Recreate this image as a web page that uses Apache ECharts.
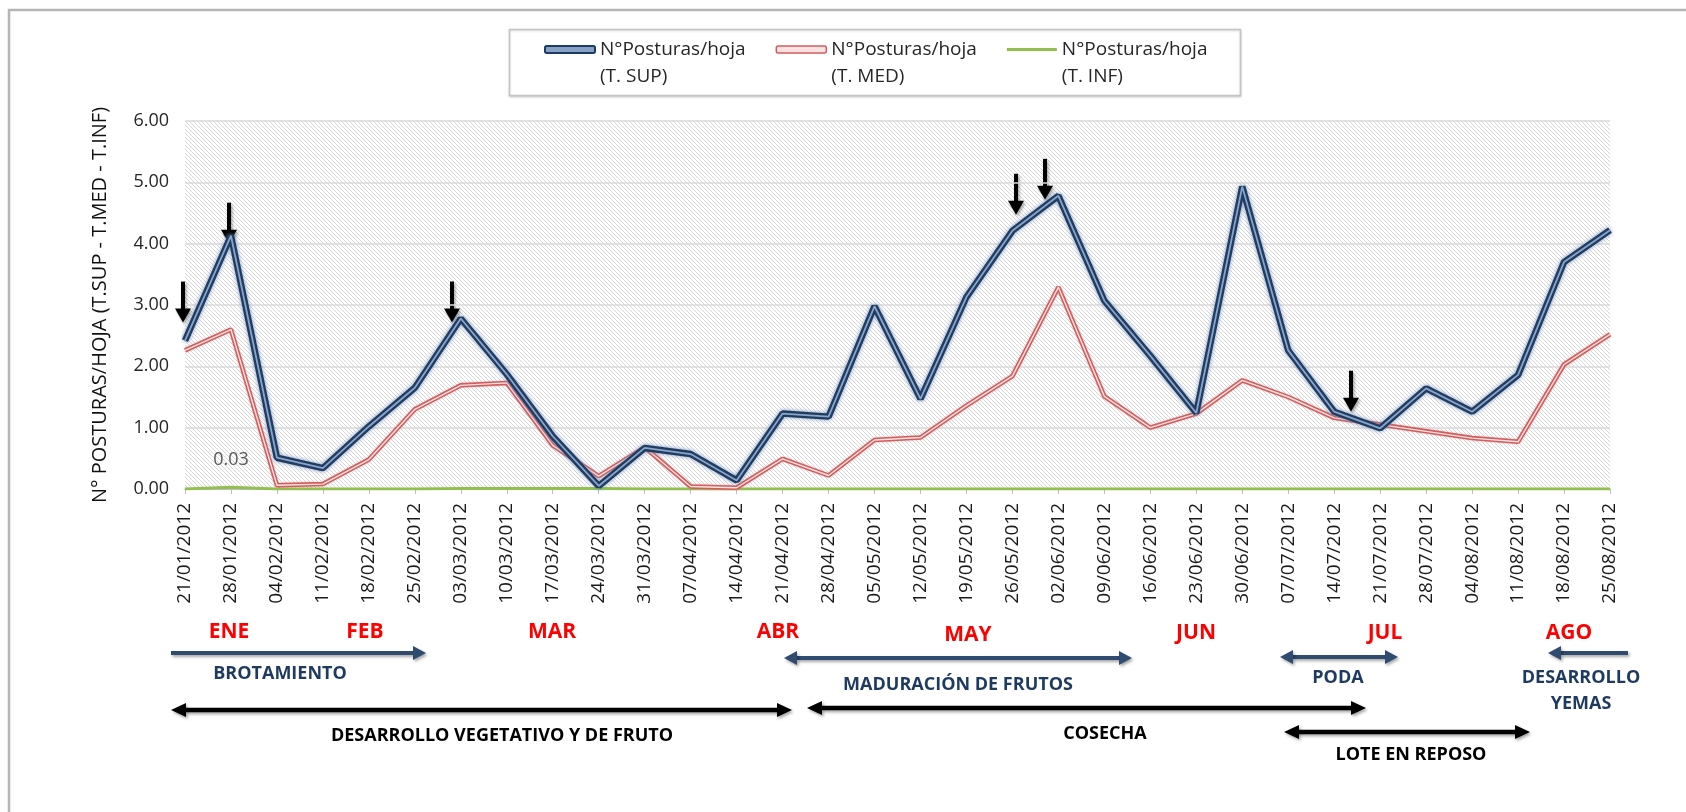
<!DOCTYPE html>
<html><head><meta charset="utf-8">
<script src="https://cdn.jsdelivr.net/npm/echarts@6/dist/echarts.min.js"></script>
<style>html,body{margin:0;padding:0;background:#fff}#c{width:1686px;height:812px}</style>
</head><body><div id="c"></div>
<script>
// ---------- data ----------
const categories = ['21/01/2012','28/01/2012','04/02/2012','11/02/2012','18/02/2012','25/02/2012','03/03/2012','10/03/2012','17/03/2012','24/03/2012','31/03/2012','07/04/2012','14/04/2012','21/04/2012','28/04/2012','05/05/2012','12/05/2012','19/05/2012','26/05/2012','02/06/2012','09/06/2012','16/06/2012','23/06/2012','30/06/2012','07/07/2012','14/07/2012','21/07/2012','28/07/2012','04/08/2012','11/08/2012','18/08/2012','25/08/2012'];
const supValues = [2.42,4.13,0.51,0.34,1.02,1.65,2.78,1.87,0.86,0.05,0.67,0.57,0.14,1.23,1.18,2.98,1.47,3.13,4.21,4.78,3.07,2.17,1.24,4.93,2.26,1.26,0.99,1.64,1.26,1.86,3.70,4.22];
const medValues = [2.26,2.60,0.06,0.08,0.48,1.30,1.69,1.73,0.71,0.21,0.68,0.04,0.02,0.49,0.22,0.80,0.84,1.36,1.84,3.29,1.51,1.00,1.23,1.77,1.50,1.16,1.05,0.94,0.83,0.77,2.03,2.52];
const infValues = [0,0.03,0,0,0,0,0.01,0.01,0.01,0.01,0,0,0,0,0,0,0,0,0,0,0,0,0,0,0,0,0,0,0,0,0,0];
const seriesNames = ['N°Posturas/hoja\n(T. SUP)','N°Posturas/hoja\n(T. MED)','N°Posturas/hoja\n(T. INF)'];
const yAxisTitle = 'N° POSTURAS/HOJA (T.SUP - T.MED - T.INF)';
const yMin = 0, yMax = 6, yStep = 1;
const infLabelIndex = 1;                       // the "0.03" data label
const markedIndices = [0,1,6,18,19,25];        // points marked with a down arrow
const monthNames = ['ENE','FEB','MAR','ABR','MAY','JUN','JUL','AGO'];
const phaseNames = ['BROTAMIENTO','MADURACIÓN DE FRUTOS','PODA','DESARROLLO\nYEMAS','DESARROLLO VEGETATIVO Y DE FRUTO','COSECHA','LOTE EN REPOSO'];

// ---------- layout / style ----------
const FONT = '"Open Sans", "Noto Sans", sans-serif';
const BLUE = '#2f4b70', BLUE_TXT = '#1f3a5f';
const monthPos = [[229,632],[365,632],[552,632],[778,632],[968,635],[1196,633],[1385,633],[1569,633]];
// [x1, x2, y, color, headStart, headEnd, labelX, labelY]
const phaseLayout = [
  [171, 426, 653, BLUE, false, true, 280, 674],
  [784, 1132, 658, BLUE, true, true, 958, 685],
  [1280, 1398, 657, BLUE, true, true, 1338, 678],
  [1548, 1628, 653, BLUE, true, false, 1581, 691],
  [171, 792, 710, '#000', true, true, 502, 736],
  [807, 1366, 708, '#000', true, true, 1105, 734],
  [1284, 1530, 732, '#000', true, true, 1411, 755]
];
const downArrowOffsets = [[-2,-18],[-2,8],[-9,4],[4,-16],[-13,4],[17,0]];

function hatch(){
  const n = 4, c = document.createElement('canvas'); c.width = n; c.height = n;
  const ctx = c.getContext('2d'); ctx.fillStyle = '#fff'; ctx.fillRect(0,0,n,n);
  const img = ctx.getImageData(0,0,n,n);
  for (let y=0;y<n;y++) for (let x=0;x<n;x++){
    if ((((x-y)%n)+n)%n===0){ const k=(y*n+x)*4; img.data[k]=215; img.data[k+1]=215; img.data[k+2]=215; img.data[k+3]=255; }
  }
  ctx.putImageData(img,0,0); return c;
}

const shadow = {shadowBlur:3, shadowOffsetX:1.5, shadowOffsetY:2, shadowColor:'rgba(0,0,0,0.35)'};
function hArrow(x1,x2,y,color,hs,he){
  const hl = color==='#000'?15:13, hw = 7, lw = color==='#000'?4.5:4;
  const els = [];
  els.push({type:'line', shape:{x1:hs?x1+hl-1:x1, y1:y, x2:he?x2-hl+1:x2, y2:y}, style:Object.assign({stroke:color, lineWidth:lw}, shadow)});
  if (hs) els.push({type:'polygon', shape:{points:[[x1,y],[x1+hl,y-hw],[x1+hl,y+hw]]}, style:Object.assign({fill:color}, shadow)});
  if (he) els.push({type:'polygon', shape:{points:[[x2,y],[x2-hl,y-hw],[x2-hl,y+hw]]}, style:Object.assign({fill:color}, shadow)});
  return {type:'group', children:els, silent:true};
}
function vArrow(x,tipY){
  const L = 41, hl = 14, hw = 8;
  x = Math.round(x);
  return {type:'group', silent:true, children:[
    {type:'rect', shape:{x:x-2, y:tipY-L, width:4, height:L-hl+1}, style:Object.assign({fill:'#000'}, shadow)},
    {type:'polygon', shape:{points:[[x,tipY],[x-hw,tipY-hl],[x+hw,tipY-hl]]}, style:Object.assign({fill:'#000'}, shadow)}
  ]};
}

const staticGraphics = [];
staticGraphics.push({type:'rect', silent:true, z:-10, shape:{x:9,y:10,width:1800,height:900}, style:{fill:'none', stroke:'#b5b5b5', lineWidth:2.5}});
staticGraphics.push({type:'rect', silent:true, z:-5, shape:{x:509.5,y:29.5,width:731,height:66}, style:{fill:'#fff', stroke:'#c4c4c4', lineWidth:1.5, shadowBlur:2, shadowColor:'rgba(0,0,0,0.15)', shadowOffsetY:1}});
monthNames.forEach((m,i)=>staticGraphics.push({type:'text', silent:true, style:{text:m, x:monthPos[i][0], y:monthPos[i][1], align:'center', verticalAlign:'middle', font:'bold 21px '+FONT, fill:'#ff0000'}}));
phaseNames.forEach((p,i)=>{
  const L = phaseLayout[i];
  staticGraphics.push(hArrow(L[0],L[1],L[2],L[3],L[4],L[5]));
  staticGraphics.push({type:'text', silent:true, style:{text:p, x:L[6], y:L[7], align:'center', verticalAlign:'middle', font:'bold 18px '+FONT, lineHeight:26, fill:L[3]==='#000'?'#000':BLUE_TXT}});
});

const chart = echarts.init(document.getElementById('c'), null, {renderer:'canvas'});
const noEmph = {disabled:true};
const option = {
  animation:false,
  backgroundColor:'#fff',
  legend:{
    data:[
      {name:seriesNames[0], icon:'roundRect', itemStyle:{color:'#86a1c4', borderColor:'#1f3b63', borderWidth:2}},
      {name:seriesNames[1], icon:'roundRect', itemStyle:{color:'#fbe2e2', borderColor:'#d35d5d', borderWidth:1.5}},
      {name:seriesNames[2], icon:'path://M0,0L50,0L50,3L0,3Z', itemStyle:{color:'#92c050'}}
    ],
    formatter: name => ' \n' + name,
    left:544, top:9, padding:0, itemWidth:50, itemHeight:7, itemGap:30, selectedMode:false,
    textStyle:{fontFamily:FONT, fontSize:19, color:'#262626', lineHeight:27}
  },
  grid:{left:185, right:76, top:121, bottom:323, show:true, borderWidth:0, backgroundColor:{image:hatch(), repeat:'repeat'}},
  xAxis:{
    type:'category', data:categories, boundaryGap:false,
    axisLine:{lineStyle:{color:'#bfbfbf', width:1}},
    axisTick:{show:true, length:5, interval:0, lineStyle:{color:'#bfbfbf'}},
    axisLabel:{rotate:90, interval:0, margin:14, fontFamily:FONT, fontSize:19, color:'#1a1a1a'},
    splitLine:{show:false}
  },
  yAxis:{
    type:'value', min:yMin, max:yMax, interval:yStep,
    name:yAxisTitle, nameLocation:'middle', nameGap:75,
    nameTextStyle:{fontFamily:FONT, fontSize:20, color:'#111'},
    axisLine:{show:false}, axisTick:{show:false},
    axisLabel:{margin:16, fontFamily:FONT, fontSize:18, color:'#262626', formatter:v=>v.toFixed(2)},
    splitLine:{lineStyle:{color:'#dadada', width:1.5}}
  },
  series:[
    {name:seriesNames[2], type:'line',
     data:infValues.map((v,i)=>i===infLabelIndex?{value:v, label:{show:true, position:'top', distance:18, fontFamily:FONT, fontSize:18, color:'#595959', formatter:p=>p.value.toFixed(2)}}:v),
     symbol:'circle', symbolSize:1, showSymbol:true, showAllSymbol:true,
     lineStyle:{color:'#92c050', width:3}, itemStyle:{color:'#92c050'}, emphasis:noEmph, z:3},
    {name:seriesNames[1], type:'line', data:medValues, symbol:'none', lineStyle:{color:'#d45c5c', width:4.5, shadowBlur:2, shadowColor:'rgba(215,110,110,0.45)'}, itemStyle:{color:'#d45c5c'}, emphasis:noEmph, z:3},
    {name:'med-inner', type:'line', data:medValues, symbol:'none', silent:true, lineStyle:{color:'#fbe4e4', width:1.4}, emphasis:noEmph, z:3},
    {name:seriesNames[0], type:'line', data:supValues, symbol:'none', lineStyle:{color:'#203c63', width:6.5, shadowBlur:4, shadowColor:'rgba(110,140,180,0.9)'}, itemStyle:{color:'#203c63'}, emphasis:noEmph, z:3},
    {name:'sup-inner', type:'line', data:supValues, symbol:'none', silent:true, lineStyle:{color:'#8aa5c8', width:1.8}, emphasis:noEmph, z:3}
  ],
  graphic:staticGraphics
};
chart.setOption(option);

const arrowGraphics = markedIndices.map((idx,k)=>{
  const p = chart.convertToPixel({gridIndex:0}, [idx, supValues[idx]]);
  return vArrow(p[0]+downArrowOffsets[k][0], p[1]+downArrowOffsets[k][1]);
});
chart.setOption({graphic: staticGraphics.concat(arrowGraphics)});
</script></body></html>
